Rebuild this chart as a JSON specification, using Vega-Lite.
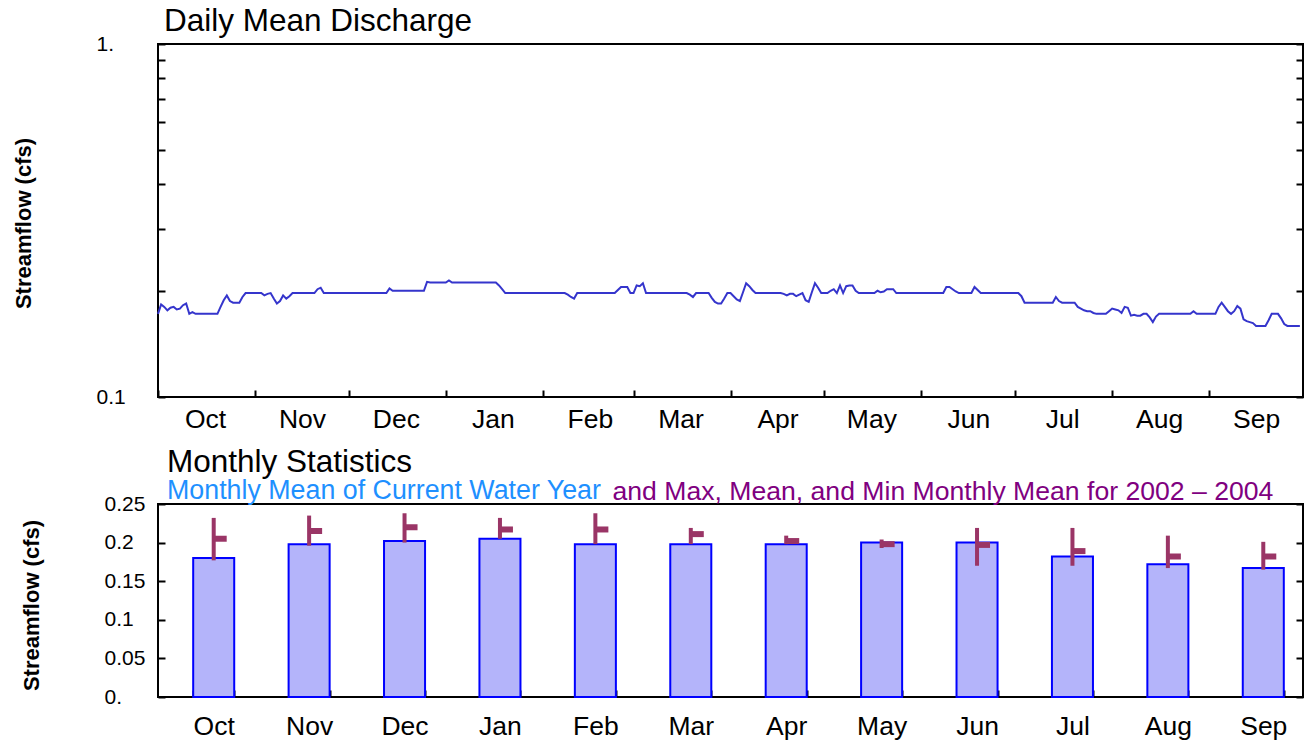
{
"$schema": "https://vega.github.io/schema/vega-lite/v6.json",
"background": "white",
"padding": {"left": 11, "top": 4, "right": 0, "bottom": 0},
"spacing": 11,
"config": {
  "font": "Liberation Sans",
  "view": {"stroke": "black", "strokeWidth": 2},
  "axis": {"domain": false, "grid": false, "tickColor": "black", "tickWidth": 2, "labelColor": "black", "labelFont": "Liberation Sans", "titleFont": "Liberation Sans", "titleColor": "black"},
  "title": {"anchor": "start", "font": "Liberation Sans", "fontWeight": "normal", "color": "black"}
},
"vconcat": [
{
  "width": 1145, "height": 353,
  "title": {"text": "Daily Mean Discharge", "fontSize": 31.5, "dx": 6, "offset": -4, "frame": "group"},
  "data": {"values": [
{"date":"2003-10-01","flow":0.172},{"date":"2003-10-02","flow":0.183},{"date":"2003-10-03","flow":0.180},{"date":"2003-10-04","flow":0.176},{"date":"2003-10-05","flow":0.179},{"date":"2003-10-06","flow":0.180},{"date":"2003-10-07","flow":0.177},{"date":"2003-10-08","flow":0.178},{"date":"2003-10-09","flow":0.182},{"date":"2003-10-10","flow":0.184},{"date":"2003-10-11","flow":0.172},{"date":"2003-10-12","flow":0.174},{"date":"2003-10-13","flow":0.172},{"date":"2003-10-14","flow":0.172},{"date":"2003-10-15","flow":0.172},{"date":"2003-10-16","flow":0.172},{"date":"2003-10-17","flow":0.172},{"date":"2003-10-18","flow":0.172},{"date":"2003-10-19","flow":0.172},{"date":"2003-10-20","flow":0.172},{"date":"2003-10-21","flow":0.180},{"date":"2003-10-22","flow":0.188},{"date":"2003-10-23","flow":0.194},{"date":"2003-10-24","flow":0.187},{"date":"2003-10-25","flow":0.185},{"date":"2003-10-26","flow":0.185},{"date":"2003-10-27","flow":0.185},{"date":"2003-10-28","flow":0.192},{"date":"2003-10-29","flow":0.197},{"date":"2003-10-30","flow":0.197},{"date":"2003-10-31","flow":0.197},
{"date":"2003-11-01","flow":0.197},{"date":"2003-11-02","flow":0.197},{"date":"2003-11-03","flow":0.197},{"date":"2003-11-04","flow":0.194},{"date":"2003-11-05","flow":0.196},{"date":"2003-11-06","flow":0.197},{"date":"2003-11-07","flow":0.190},{"date":"2003-11-08","flow":0.184},{"date":"2003-11-09","flow":0.187},{"date":"2003-11-10","flow":0.194},{"date":"2003-11-11","flow":0.190},{"date":"2003-11-12","flow":0.193},{"date":"2003-11-13","flow":0.197},{"date":"2003-11-14","flow":0.197},{"date":"2003-11-15","flow":0.197},{"date":"2003-11-16","flow":0.197},{"date":"2003-11-17","flow":0.197},{"date":"2003-11-18","flow":0.197},{"date":"2003-11-19","flow":0.197},{"date":"2003-11-20","flow":0.197},{"date":"2003-11-21","flow":0.202},{"date":"2003-11-22","flow":0.204},{"date":"2003-11-23","flow":0.197},{"date":"2003-11-24","flow":0.197},{"date":"2003-11-25","flow":0.197},{"date":"2003-11-26","flow":0.197},{"date":"2003-11-27","flow":0.197},{"date":"2003-11-28","flow":0.197},{"date":"2003-11-29","flow":0.197},{"date":"2003-11-30","flow":0.197},
{"date":"2003-12-01","flow":0.197},{"date":"2003-12-02","flow":0.197},{"date":"2003-12-03","flow":0.197},{"date":"2003-12-04","flow":0.197},{"date":"2003-12-05","flow":0.197},{"date":"2003-12-06","flow":0.197},{"date":"2003-12-07","flow":0.197},{"date":"2003-12-08","flow":0.197},{"date":"2003-12-09","flow":0.197},{"date":"2003-12-10","flow":0.197},{"date":"2003-12-11","flow":0.197},{"date":"2003-12-12","flow":0.197},{"date":"2003-12-13","flow":0.197},{"date":"2003-12-14","flow":0.203},{"date":"2003-12-15","flow":0.200},{"date":"2003-12-16","flow":0.200},{"date":"2003-12-17","flow":0.200},{"date":"2003-12-18","flow":0.200},{"date":"2003-12-19","flow":0.200},{"date":"2003-12-20","flow":0.200},{"date":"2003-12-21","flow":0.200},{"date":"2003-12-22","flow":0.200},{"date":"2003-12-23","flow":0.200},{"date":"2003-12-24","flow":0.200},{"date":"2003-12-25","flow":0.200},{"date":"2003-12-26","flow":0.212},{"date":"2003-12-27","flow":0.211},{"date":"2003-12-28","flow":0.211},{"date":"2003-12-29","flow":0.211},{"date":"2003-12-30","flow":0.211},{"date":"2003-12-31","flow":0.211},
{"date":"2004-01-01","flow":0.211},{"date":"2004-01-02","flow":0.214},{"date":"2004-01-03","flow":0.211},{"date":"2004-01-04","flow":0.211},{"date":"2004-01-05","flow":0.211},{"date":"2004-01-06","flow":0.211},{"date":"2004-01-07","flow":0.211},{"date":"2004-01-08","flow":0.211},{"date":"2004-01-09","flow":0.211},{"date":"2004-01-10","flow":0.211},{"date":"2004-01-11","flow":0.211},{"date":"2004-01-12","flow":0.211},{"date":"2004-01-13","flow":0.211},{"date":"2004-01-14","flow":0.211},{"date":"2004-01-15","flow":0.211},{"date":"2004-01-16","flow":0.211},{"date":"2004-01-17","flow":0.211},{"date":"2004-01-18","flow":0.207},{"date":"2004-01-19","flow":0.202},{"date":"2004-01-20","flow":0.197},{"date":"2004-01-21","flow":0.197},{"date":"2004-01-22","flow":0.197},{"date":"2004-01-23","flow":0.197},{"date":"2004-01-24","flow":0.197},{"date":"2004-01-25","flow":0.197},{"date":"2004-01-26","flow":0.197},{"date":"2004-01-27","flow":0.197},{"date":"2004-01-28","flow":0.197},{"date":"2004-01-29","flow":0.197},{"date":"2004-01-30","flow":0.197},{"date":"2004-01-31","flow":0.197},
{"date":"2004-02-01","flow":0.197},{"date":"2004-02-02","flow":0.197},{"date":"2004-02-03","flow":0.197},{"date":"2004-02-04","flow":0.197},{"date":"2004-02-05","flow":0.197},{"date":"2004-02-06","flow":0.197},{"date":"2004-02-07","flow":0.197},{"date":"2004-02-08","flow":0.197},{"date":"2004-02-09","flow":0.195},{"date":"2004-02-10","flow":0.192},{"date":"2004-02-11","flow":0.190},{"date":"2004-02-12","flow":0.197},{"date":"2004-02-13","flow":0.197},{"date":"2004-02-14","flow":0.197},{"date":"2004-02-15","flow":0.197},{"date":"2004-02-16","flow":0.197},{"date":"2004-02-17","flow":0.197},{"date":"2004-02-18","flow":0.197},{"date":"2004-02-19","flow":0.197},{"date":"2004-02-20","flow":0.197},{"date":"2004-02-21","flow":0.197},{"date":"2004-02-22","flow":0.197},{"date":"2004-02-23","flow":0.197},{"date":"2004-02-24","flow":0.197},{"date":"2004-02-25","flow":0.201},{"date":"2004-02-26","flow":0.205},{"date":"2004-02-27","flow":0.205},{"date":"2004-02-28","flow":0.205},{"date":"2004-02-29","flow":0.197},
{"date":"2004-03-01","flow":0.197},{"date":"2004-03-02","flow":0.207},{"date":"2004-03-03","flow":0.206},{"date":"2004-03-04","flow":0.210},{"date":"2004-03-05","flow":0.197},{"date":"2004-03-06","flow":0.197},{"date":"2004-03-07","flow":0.197},{"date":"2004-03-08","flow":0.197},{"date":"2004-03-09","flow":0.197},{"date":"2004-03-10","flow":0.197},{"date":"2004-03-11","flow":0.197},{"date":"2004-03-12","flow":0.197},{"date":"2004-03-13","flow":0.197},{"date":"2004-03-14","flow":0.197},{"date":"2004-03-15","flow":0.197},{"date":"2004-03-16","flow":0.197},{"date":"2004-03-17","flow":0.197},{"date":"2004-03-18","flow":0.197},{"date":"2004-03-19","flow":0.195},{"date":"2004-03-20","flow":0.192},{"date":"2004-03-21","flow":0.197},{"date":"2004-03-22","flow":0.197},{"date":"2004-03-23","flow":0.197},{"date":"2004-03-24","flow":0.197},{"date":"2004-03-25","flow":0.197},{"date":"2004-03-26","flow":0.191},{"date":"2004-03-27","flow":0.186},{"date":"2004-03-28","flow":0.184},{"date":"2004-03-29","flow":0.184},{"date":"2004-03-30","flow":0.190},{"date":"2004-03-31","flow":0.197},
{"date":"2004-04-01","flow":0.197},{"date":"2004-04-02","flow":0.193},{"date":"2004-04-03","flow":0.189},{"date":"2004-04-04","flow":0.187},{"date":"2004-04-05","flow":0.198},{"date":"2004-04-06","flow":0.210},{"date":"2004-04-07","flow":0.206},{"date":"2004-04-08","flow":0.201},{"date":"2004-04-09","flow":0.197},{"date":"2004-04-10","flow":0.197},{"date":"2004-04-11","flow":0.197},{"date":"2004-04-12","flow":0.197},{"date":"2004-04-13","flow":0.197},{"date":"2004-04-14","flow":0.197},{"date":"2004-04-15","flow":0.197},{"date":"2004-04-16","flow":0.197},{"date":"2004-04-17","flow":0.197},{"date":"2004-04-18","flow":0.196},{"date":"2004-04-19","flow":0.194},{"date":"2004-04-20","flow":0.196},{"date":"2004-04-21","flow":0.196},{"date":"2004-04-22","flow":0.193},{"date":"2004-04-23","flow":0.195},{"date":"2004-04-24","flow":0.197},{"date":"2004-04-25","flow":0.188},{"date":"2004-04-26","flow":0.186},{"date":"2004-04-27","flow":0.198},{"date":"2004-04-28","flow":0.210},{"date":"2004-04-29","flow":0.204},{"date":"2004-04-30","flow":0.197},
{"date":"2004-05-01","flow":0.197},{"date":"2004-05-02","flow":0.197},{"date":"2004-05-03","flow":0.200},{"date":"2004-05-04","flow":0.202},{"date":"2004-05-05","flow":0.197},{"date":"2004-05-06","flow":0.207},{"date":"2004-05-07","flow":0.197},{"date":"2004-05-08","flow":0.206},{"date":"2004-05-09","flow":0.207},{"date":"2004-05-10","flow":0.207},{"date":"2004-05-11","flow":0.200},{"date":"2004-05-12","flow":0.197},{"date":"2004-05-13","flow":0.197},{"date":"2004-05-14","flow":0.197},{"date":"2004-05-15","flow":0.197},{"date":"2004-05-16","flow":0.197},{"date":"2004-05-17","flow":0.197},{"date":"2004-05-18","flow":0.200},{"date":"2004-05-19","flow":0.198},{"date":"2004-05-20","flow":0.199},{"date":"2004-05-21","flow":0.202},{"date":"2004-05-22","flow":0.202},{"date":"2004-05-23","flow":0.202},{"date":"2004-05-24","flow":0.197},{"date":"2004-05-25","flow":0.197},{"date":"2004-05-26","flow":0.197},{"date":"2004-05-27","flow":0.197},{"date":"2004-05-28","flow":0.197},{"date":"2004-05-29","flow":0.197},{"date":"2004-05-30","flow":0.197},{"date":"2004-05-31","flow":0.197},
{"date":"2004-06-01","flow":0.197},{"date":"2004-06-02","flow":0.197},{"date":"2004-06-03","flow":0.197},{"date":"2004-06-04","flow":0.197},{"date":"2004-06-05","flow":0.197},{"date":"2004-06-06","flow":0.197},{"date":"2004-06-07","flow":0.197},{"date":"2004-06-08","flow":0.197},{"date":"2004-06-09","flow":0.205},{"date":"2004-06-10","flow":0.205},{"date":"2004-06-11","flow":0.202},{"date":"2004-06-12","flow":0.199},{"date":"2004-06-13","flow":0.197},{"date":"2004-06-14","flow":0.197},{"date":"2004-06-15","flow":0.197},{"date":"2004-06-16","flow":0.197},{"date":"2004-06-17","flow":0.197},{"date":"2004-06-18","flow":0.205},{"date":"2004-06-19","flow":0.201},{"date":"2004-06-20","flow":0.197},{"date":"2004-06-21","flow":0.197},{"date":"2004-06-22","flow":0.197},{"date":"2004-06-23","flow":0.197},{"date":"2004-06-24","flow":0.197},{"date":"2004-06-25","flow":0.197},{"date":"2004-06-26","flow":0.197},{"date":"2004-06-27","flow":0.197},{"date":"2004-06-28","flow":0.197},{"date":"2004-06-29","flow":0.197},{"date":"2004-06-30","flow":0.197},
{"date":"2004-07-01","flow":0.197},{"date":"2004-07-02","flow":0.197},{"date":"2004-07-03","flow":0.193},{"date":"2004-07-04","flow":0.185},{"date":"2004-07-05","flow":0.185},{"date":"2004-07-06","flow":0.185},{"date":"2004-07-07","flow":0.185},{"date":"2004-07-08","flow":0.185},{"date":"2004-07-09","flow":0.185},{"date":"2004-07-10","flow":0.185},{"date":"2004-07-11","flow":0.185},{"date":"2004-07-12","flow":0.185},{"date":"2004-07-13","flow":0.185},{"date":"2004-07-14","flow":0.192},{"date":"2004-07-15","flow":0.187},{"date":"2004-07-16","flow":0.185},{"date":"2004-07-17","flow":0.185},{"date":"2004-07-18","flow":0.185},{"date":"2004-07-19","flow":0.185},{"date":"2004-07-20","flow":0.185},{"date":"2004-07-21","flow":0.180},{"date":"2004-07-22","flow":0.178},{"date":"2004-07-23","flow":0.176},{"date":"2004-07-24","flow":0.175},{"date":"2004-07-25","flow":0.175},{"date":"2004-07-26","flow":0.173},{"date":"2004-07-27","flow":0.172},{"date":"2004-07-28","flow":0.172},{"date":"2004-07-29","flow":0.172},{"date":"2004-07-30","flow":0.172},{"date":"2004-07-31","flow":0.175},
{"date":"2004-08-01","flow":0.178},{"date":"2004-08-02","flow":0.177},{"date":"2004-08-03","flow":0.176},{"date":"2004-08-04","flow":0.173},{"date":"2004-08-05","flow":0.180},{"date":"2004-08-06","flow":0.179},{"date":"2004-08-07","flow":0.170},{"date":"2004-08-08","flow":0.171},{"date":"2004-08-09","flow":0.170},{"date":"2004-08-10","flow":0.170},{"date":"2004-08-11","flow":0.172},{"date":"2004-08-12","flow":0.172},{"date":"2004-08-13","flow":0.168},{"date":"2004-08-14","flow":0.163},{"date":"2004-08-15","flow":0.169},{"date":"2004-08-16","flow":0.172},{"date":"2004-08-17","flow":0.172},{"date":"2004-08-18","flow":0.172},{"date":"2004-08-19","flow":0.172},{"date":"2004-08-20","flow":0.172},{"date":"2004-08-21","flow":0.172},{"date":"2004-08-22","flow":0.172},{"date":"2004-08-23","flow":0.172},{"date":"2004-08-24","flow":0.172},{"date":"2004-08-25","flow":0.172},{"date":"2004-08-26","flow":0.172},{"date":"2004-08-27","flow":0.175},{"date":"2004-08-28","flow":0.172},{"date":"2004-08-29","flow":0.172},{"date":"2004-08-30","flow":0.172},{"date":"2004-08-31","flow":0.172},
{"date":"2004-09-01","flow":0.172},{"date":"2004-09-02","flow":0.172},{"date":"2004-09-03","flow":0.172},{"date":"2004-09-04","flow":0.180},{"date":"2004-09-05","flow":0.185},{"date":"2004-09-06","flow":0.180},{"date":"2004-09-07","flow":0.175},{"date":"2004-09-08","flow":0.172},{"date":"2004-09-09","flow":0.175},{"date":"2004-09-10","flow":0.181},{"date":"2004-09-11","flow":0.178},{"date":"2004-09-12","flow":0.166},{"date":"2004-09-13","flow":0.164},{"date":"2004-09-14","flow":0.163},{"date":"2004-09-15","flow":0.162},{"date":"2004-09-16","flow":0.159},{"date":"2004-09-17","flow":0.159},{"date":"2004-09-18","flow":0.159},{"date":"2004-09-19","flow":0.159},{"date":"2004-09-20","flow":0.165},{"date":"2004-09-21","flow":0.172},{"date":"2004-09-22","flow":0.172},{"date":"2004-09-23","flow":0.172},{"date":"2004-09-24","flow":0.167},{"date":"2004-09-25","flow":0.161},{"date":"2004-09-26","flow":0.159},{"date":"2004-09-27","flow":0.159},{"date":"2004-09-28","flow":0.159},{"date":"2004-09-29","flow":0.159},{"date":"2004-09-30","flow":0.159}
  ]},
  "layer": [
    {
      "mark": {"type": "line", "color": "#3535CC", "strokeWidth": 2},
      "encoding": {
        "x": {"field": "date", "type": "temporal",
          "scale": {"type": "utc", "domain": [{"year": 2003, "month": 10, "date": 1, "utc": true}, {"year": 2004, "month": 10, "date": 1, "utc": true}]},
          "axis": {"title": null, "format": "%b", "tickSize": -7, "labelOffset": 47, "labelPadding": 29, "labelFontSize": 26.5, "labelBaseline": "middle", "labelFlush": false, "labelOverlap": false, "labelBound": false,
            "values": [
              {"year": 2003, "month": 10, "date": 1, "utc": true}, {"year": 2003, "month": 11, "date": 1, "utc": true}, {"year": 2003, "month": 12, "date": 1, "utc": true},
              {"year": 2004, "month": 1, "date": 1, "utc": true}, {"year": 2004, "month": 2, "date": 1, "utc": true}, {"year": 2004, "month": 3, "date": 1, "utc": true},
              {"year": 2004, "month": 4, "date": 1, "utc": true}, {"year": 2004, "month": 5, "date": 1, "utc": true}, {"year": 2004, "month": 6, "date": 1, "utc": true},
              {"year": 2004, "month": 7, "date": 1, "utc": true}, {"year": 2004, "month": 8, "date": 1, "utc": true}, {"year": 2004, "month": 9, "date": 1, "utc": true}
            ]}},
        "y": {"field": "flow", "type": "quantitative",
          "scale": {"type": "log", "domain": [0.1, 1], "nice": false},
          "axis": {"title": "Streamflow (cfs)", "titleFontSize": 22, "titleFontWeight": "bold", "titleX": -135, "titleY": 179, "titleAngle": -90, "titleAlign": "center", "titleBaseline": "middle",
            "values": [0.1, 0.2, 0.3, 0.4, 0.5, 0.6, 0.7, 0.8, 0.9, 1],
            "labelExpr": "datum.value > 0.95 ? '1.' : (datum.value < 0.15 ? '0.1' : '')",
            "tickSize": -7, "labelAlign": "left", "labelPadding": 69, "labelFontSize": 21, "labelBaseline": "middle"}}
      }
    },
    {
      "mark": {"type": "line", "strokeOpacity": 0},
      "encoding": {
        "x": {"field": "date", "type": "temporal"},
        "y": {"field": "flow", "type": "quantitative",
          "axis": {"orient": "right", "title": null, "labels": false, "tickSize": -7, "values": [0.1, 0.2, 0.3, 0.4, 0.5, 0.6, 0.7, 0.8, 0.9, 1]}}
      }
    }
  ],
  "resolve": {"axis": {"y": "independent"}}
},
{
  "width": 1145, "height": 193,
  "title": {"text": "Monthly Statistics", "subtitle": "Monthly Mean of Current Water Year", "subtitleColor": "#1E90FF", "subtitleFontSize": 26.8, "subtitleFont": "Liberation Sans", "fontSize": 31.5, "dx": 9, "offset": -27, "subtitlePadding": 0, "frame": "group"},
  "data": {"values": [
    {"month": "Oct", "current": 0.180, "max": 0.232, "mean": 0.205, "min": 0.177},
    {"month": "Nov", "current": 0.198, "max": 0.235, "mean": 0.215, "min": 0.196},
    {"month": "Dec", "current": 0.202, "max": 0.238, "mean": 0.220, "min": 0.200},
    {"month": "Jan", "current": 0.205, "max": 0.232, "mean": 0.217, "min": 0.205},
    {"month": "Feb", "current": 0.198, "max": 0.238, "mean": 0.217, "min": 0.198},
    {"month": "Mar", "current": 0.198, "max": 0.219, "mean": 0.211, "min": 0.198},
    {"month": "Apr", "current": 0.198, "max": 0.209, "mean": 0.202, "min": 0.198},
    {"month": "May", "current": 0.200, "max": 0.204, "mean": 0.198, "min": 0.193},
    {"month": "Jun", "current": 0.200, "max": 0.219, "mean": 0.197, "min": 0.170},
    {"month": "Jul", "current": 0.182, "max": 0.219, "mean": 0.189, "min": 0.170},
    {"month": "Aug", "current": 0.172, "max": 0.209, "mean": 0.182, "min": 0.167},
    {"month": "Sep", "current": 0.167, "max": 0.201, "mean": 0.182, "min": 0.165}
  ]},
  "layer": [
    {
      "mark": {"type": "bar", "fill": "#B4B4FA", "stroke": "#0000FF", "strokeWidth": 2},
      "encoding": {
        "x": {"field": "month", "type": "nominal", "sort": null,
          "scale": {"paddingInner": 0.57, "paddingOuter": 0.285, "align": 0.647},
          "axis": {"title": null, "labelAngle": 0, "tickBand": "extent", "tickSize": -7, "labelPadding": 36, "labelFontSize": 26.5, "labelBaseline": "middle"}},
        "y": {"field": "current", "type": "quantitative",
          "scale": {"domain": [0, 0.25], "nice": false},
          "axis": {"title": "Streamflow (cfs)", "titleFontSize": 22, "titleFontWeight": "bold", "titleX": -127, "titleY": 101, "titleAngle": -90, "titleAlign": "center", "titleBaseline": "middle",
            "values": [0, 0.05, 0.1, 0.15, 0.2, 0.25],
            "labelExpr": "datum.value == 0 ? '0.' : format(datum.value, '~g')",
            "tickSize": -7, "labelAlign": "left", "labelPadding": 61, "labelFontSize": 21, "labelBaseline": "middle"}}
      }
    },
    {
      "mark": {"type": "rule", "color": "#9A3566", "strokeWidth": 4},
      "encoding": {
        "x": {"field": "month", "type": "nominal", "sort": null,
          "axis": {"orient": "top", "labels": false, "ticks": false, "domain": false,
            "title": "and Max, Mean, and Min Monthly Mean for 2002 – 2004", "titleColor": "#800080", "titleFontSize": 26.6, "titleFontWeight": "normal",
            "titleX": 454, "titleY": -5, "titleAlign": "left", "titleBaseline": "alphabetic", "titleAngle": 0}},
        "y": {"field": "min", "type": "quantitative", "scale": {"domain": [0, 0.25], "nice": false},
          "axis": {"orient": "right", "title": null, "labels": false, "tickSize": -7, "values": [0, 0.05, 0.1, 0.15, 0.2, 0.25]}},
        "y2": {"field": "max"}
      }
    },
    {
      "mark": {"type": "tick", "color": "#9A3566", "thickness": 6, "size": 13, "xOffset": 6.5, "opacity": 1},
      "encoding": {
        "x": {"field": "month", "type": "nominal", "sort": null, "axis": null},
        "y": {"field": "mean", "type": "quantitative", "axis": null}
      }
    }
  ],
  "resolve": {"axis": {"x": "independent", "y": "independent"}}
}
]
}
